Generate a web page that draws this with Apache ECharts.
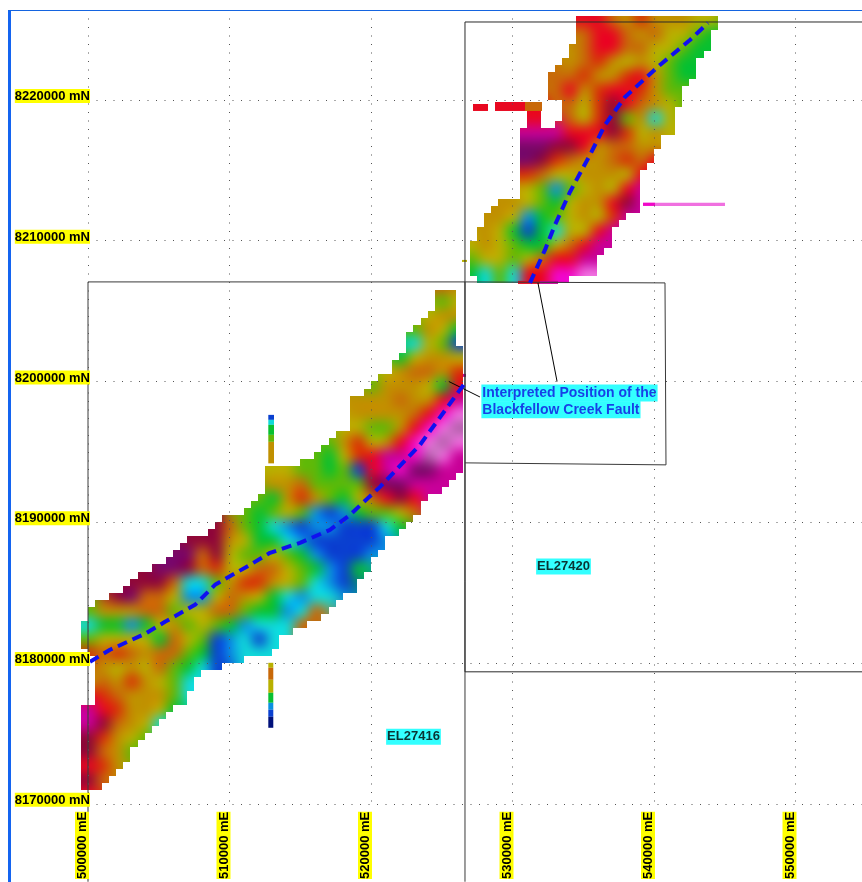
<!DOCTYPE html>
<html><head><meta charset="utf-8">
<style>html,body{margin:0;padding:0;background:#fff}#c{width:862px;height:882px}</style>
<script src="https://cdn.jsdelivr.net/npm/echarts@6/dist/echarts.min.js"></script>
</head><body><div id="c"></div>
<script>
// Colour codes of the survey image: [start column, cell codes], one row per 1000 m going south.
const originE = 499600, originN = 8226200, cellSize = 1000, subCell = 500;
const surveyRows = [
[35,"rr879777665"],[35,"8rr8786654"],[34,"78rr8866544"],[34,"7897676544"],[33,"889779r754"],
[33,"8r79rr9755"],[34,"869mr8765"],[31,"rr 869m5736"],[31,"cccrrrm9676"],[31,"ppmmr78877"],
[31,"pm9877898r"],[31,"98667776r"],[31,"6525676rc"],[29,"77654677rmc"],[28,"7762456769c"],
[28,"76414366rc"],[27,"67654468rcc"],[27,"566568rrcc"],[27,"4353rrddee"],
[25,"8"],[25,"56"],[24,"677"],[23,"5764"],[23,"3651"],[22,"46776"],[21,"678879"],
[20,"577764r"],[19,"777877rc"],[19,"77778rde"],[18,"66557rdef"],[17,"57967rdefe"],
[16,"5469rccdfec"],[13,"6655451rcdppcc"],[13,"7785555mppccc"],[12,"547975468rmrc"],
[11,"5456521245568"],[9,"m8543212211134"],[7,"mmm764432111112"],[6,"pp8m65565421112"],
[4,"mppm896688654214"],[3,"mmm8335799765321"],[2,"mp88622687643233"],[0,"57778856688544238"],
[0,"3442467565423338"],[0,"56666486512313"],[0,"9898788541233"],[0,"8767685431"],
[0,"78797653"],[0,"r9877753"],[0,"cr97764"],[0,"cm8763"],[0,"m9765"],[0,"m875"],[0,"r97"],[0,"m8"],[0,"r"]
];
// Outline of the two survey blocks as [easting, northing].
const outlineSouth = [[500000,8170570],[499576,8171351],[499576,8177175],[500283,8177175],[500283,8180229],[499859,8180797],
[499576,8180939],[499576,8182572],[499859,8183638],[500707,8184490],[501767,8184845],[502615,8185200],[502968,8185768],
[503816,8186479],[505583,8187331],[506007,8187828],[506643,8188538],[507562,8188893],[508480,8189319],[509046,8189816],
[509540,8190385],[510742,8190527],[511590,8191379],[512014,8191805],[512509,8191805],[512650,8193723],[513215,8194078],
[513922,8193936],[514487,8193936],[515194,8194220],[515689,8194646],[516537,8194930],[516961,8195711],[517597,8196563],
[518374,8196776],[518516,8197984],[518728,8198836],[519434,8198907],[519576,8199546],[520424,8200327],[521554,8200683],
[521696,8201535],[522544,8201890],[522614,8203452],[523462,8204376],[524310,8205086],[524522,8206506],[524735,8206719],
[525583,8206648],[525936,8206293],[526007,8202742],[526289,8202600],[526289,8201038],[526501,8200967],[526572,8196350],
[526289,8193723],[525936,8193225],[525370,8192515],[525088,8192089],[524169,8191805],[523321,8191095],[523251,8190314],
[522261,8190172],[522261,8189461],[521342,8188964],[520282,8187331],[519222,8186123],[519222,8185200],[518304,8185058],
[517809,8184277],[517314,8184277],[516395,8183283],[515194,8182572],[514275,8182146],[513357,8182146],[513357,8181294],
[513074,8180797],[512297,8180584],[511449,8180584],[510742,8180229],[509328,8180087],[509328,8179519],[508410,8179306],
[507350,8179021],[507350,8178098],[507067,8177388],[506502,8177033],[505442,8176110],[504947,8175470],[504382,8175044],
[503321,8174050],[502827,8173127],[502120,8172417],[501343,8171919],[501201,8171138],[500495,8170996],[500141,8170783]];
const outlineNorth = [[534770,8225895],[534628,8225540],[534487,8223906],[533922,8223906],[533710,8222699],[532862,8221918],
[532508,8221420],[532508,8220213],[533498,8220213],[533498,8218935],[533003,8218224],[532084,8218224],[532084,8219290],
[531024,8219290],[531024,8218011],[530671,8217869],[530529,8214673],[530388,8213253],[530317,8212898],[528763,8212685],
[528056,8211833],[527703,8210625],[526784,8209560],[526784,8207429],[528268,8207074],[533215,8207074],[536042,8207571],
[536042,8208140],[536324,8209134],[537031,8209560],[537243,8211122],[538162,8211478],[538162,8211975],[539222,8212330],
[539222,8215029],[539929,8215526],[540212,8216449],[540282,8216946],[540777,8217372],[541271,8217727],[541271,8219290],
[542049,8219503],[542049,8220355],[542331,8221420],[543038,8221633],[543250,8223196],[544098,8223551],[544169,8224971],
[545017,8225682],[544098,8225895],[542331,8226250],[537737,8226250],[537737,8225895],[537101,8225895],[537101,8226250],
[536395,8226250],[536395,8225895]];
// Narrow flight-line tails: [E west, N north, E east, N south, code]
const tailCells = [
[512742,8197629,513145,8197274,"1"],[512742,8197274,513145,8196919,"3"],[512742,8196919,513145,8196208,"4"],
[512742,8196208,513145,8195711,"5"],[512742,8195711,513145,8194184,"7"],
[512742,8180016,513095,8179661,"6"],[512742,8179661,513095,8178808,"8"],[512742,8178808,513095,8177885,"6"],
[512742,8177885,513095,8177175,"4"],[512742,8177175,513095,8176678,"2"],[512742,8176678,513095,8176181,"1"],
[512742,8176181,513095,8175399,"0"],
[539222,8212706,540070,8212472,"d"],[540070,8212706,545017,8212472,"e"],
[527208,8219716,528268,8219219,"r"],[528763,8219858,529823,8219219,"r"],[529823,8219858,530883,8219219,"r"],
[530883,8219858,532084,8219219,"8"],
[526431,8208637,526784,8208494,"6"],[526501,8200541,526714,8200328,"c"],
[530388,8207145,531943,8206932,"r"],[531943,8207145,533215,8206932,"c"]
];
const codeColors = {"0":"#00107a","1":"#0a40d0","2":"#0a90e0","3":"#10d8d8","4":"#08c030","5":"#60b808",
"6":"#b8b000","7":"#c09000","8":"#c86808","9":"#d83008","r":"#e80820","m":"#900838","p":"#7a0868",
"c":"#c80098","d":"#f008c8","e":"#f070e0","f":"#b060a8"};

const faultSouth = [[500141,8180087],[501555,8180939],[504028,8182075],[505442,8182928],[507562,8184135],
[508975,8185555],[511449,8186976],[512862,8187828],[514982,8188538],[517102,8189461],[518516,8190527],
[520636,8192516],[523463,8195498],[526643,8199902]];
const faultNorth = [[531235,8207003],[532295,8209347],[533002,8211122],[534062,8213466],[535476,8216094],
[536536,8218225],[537949,8220213],[540423,8222486],[542543,8224261],[543815,8225469]];
const el27416 = [[500000,8164462],[500000,8207074],[526643,8207074],[526643,8164462]];
const el27420 = [[554700,8225540],[526643,8225540],[526643,8179375],[554700,8179375]];
const middleBox = [[526643,8207074],[540777,8207003],[540848,8194077],[526643,8194219]];
const leaderWest = [[525500,8200000],[527700,8198900]];
const leaderNorth = [[531800,8207000],[533150,8200000]];
const tenementLabels = [["EL27416",523003,8174760],["EL27420",533604,8186855]];
const faultLabels = [["Interpreted Position of the",527800,8199191],["Blackfellow Creek Fault",527800,8197984]];
const xMin=500000,xMax=554700,xStep=10000,yMin=8170000,yMax=8226392,yStep=10000;

const lookup={};
surveyRows.forEach((row,r)=>{[...row[1]].forEach((ch,i)=>{ if(ch!==' ')lookup[r+','+(row[0]+i)]=ch; });});
function inside(pt,poly){let hit=false;for(let i=0,j=poly.length-1;i<poly.length;j=i++){
  const a=poly[i],b=poly[j];
  if((a[1]>pt[1])!==(b[1]>pt[1])&&pt[0]<(b[0]-a[0])*(pt[1]-a[1])/(b[1]-a[1])+a[0])hit=!hit;}return hit;}
const subCells=[];
for(let n=8226500;n>8170000;n-=subCell)for(let e=499500;e<546000;e+=subCell){
  const mid=[e+subCell/2,n-subCell/2];
  if(inside(mid,outlineSouth)||inside(mid,outlineNorth))subCells.push([e,n,e+subCell,n-subCell]);
}
const allCols=46, allRows=surveyRows.length, pad=3;
function rgb(h){return [1,3,5].map(i=>parseInt(h.substr(i,2),16));}
let smoothCanvas=null;
function buildSmooth(api){
  const W=allCols+2*pad,H=allRows+2*pad;
  const low=document.createElement('canvas');low.width=W;low.height=H;
  const lc=low.getContext('2d');const img=lc.createImageData(W,H);
  let g=[];for(let r=0;r<H;r++){g[r]=[];for(let c=0;c<W;c++){const k=lookup[(r-pad)+','+(c-pad)];g[r][c]=k?rgb(codeColors[k]):null;}}
  for(let pass=0;pass<5;pass++){const n=g.map(a=>a.slice());
    for(let r=0;r<H;r++)for(let c=0;c<W;c++){if(g[r][c])continue;
      let s=[0,0,0],k=0;[[1,0],[-1,0],[0,1],[0,-1]].forEach(d=>{const v=(g[r+d[0]]||[])[c+d[1]];if(v){s[0]+=v[0];s[1]+=v[1];s[2]+=v[2];k++;}});
      if(k)n[r][c]=s.map(x=>x/k);}
    g=n;}
  for(let r=0;r<H;r++)for(let c=0;c<W;c++){const v=g[r][c]||[255,255,255],o=(r*W+c)*4;
    img.data[o]=v[0];img.data[o+1]=v[1];img.data[o+2]=v[2];img.data[o+3]=255;}
  lc.putImageData(img,0,0);
  const cv=document.createElement('canvas');cv.width=862;cv.height=882;
  const ctx=cv.getContext('2d');ctx.imageSmoothingEnabled=true;ctx.imageSmoothingQuality='high';
  ctx.filter='blur(3px)';
  const a=api.coord([originE-pad*cellSize,originN+pad*cellSize]),b=api.coord([originE+(allCols+pad)*cellSize,originN-(allRows+pad)*cellSize]);
  ctx.drawImage(low,a[0],a[1],b[0]-a[0],b[1]-a[1]);
  return cv;
}
function lineSeries(data,color,width,type,z){
  return {type:'line',data:data,symbol:'none',clip:false,silent:true,z:z,animation:false,
    lineStyle:{color:color,width:width,type:type||'solid',cap:'butt'}};
}
const font={fontFamily:'Liberation Sans',fontWeight:'bold',fontSize:13,color:'#000'};
const chart=echarts.init(document.getElementById('c'),null,{renderer:'canvas'});
chart.setOption({
  animation:false,backgroundColor:'#fff',
  grid:{left:88,right:0,top:10,bottom:78},
  graphic:[
    {type:'rect',shape:{x:8,y:10,width:3,height:872},style:{fill:'#1464f0'},z:50},
    {type:'rect',shape:{x:8,y:10,width:854,height:1},style:{fill:'#1464e0'},z:50}
  ],
  xAxis:{type:'value',z:20,min:xMin,max:xMax,interval:xStep,axisLine:{show:false},axisTick:{show:false},
    splitLine:{show:true,showMaxLine:false,lineStyle:{color:'#555',width:1,type:[1,7.5]}},
    axisLabel:{rotate:90,margin:8,showMaxLabel:false,padding:[0,0,12,0],formatter:v=>'{t|'+v+' mE}',
      rich:{t:Object.assign({backgroundColor:'#ffff00',padding:[1,0,0,0]},font)}}},
  yAxis:{type:'value',z:20,min:yMin,max:yMax,interval:yStep,axisLine:{show:false},axisTick:{show:false},
    splitLine:{show:true,showMaxLine:false,lineStyle:{color:'#555',width:1,type:[1,7.5]}},
    axisLabel:{margin:-2,showMaxLabel:false,padding:[0,0,8,0],formatter:v=>'{t|'+v+' mN}',
      rich:{t:Object.assign({backgroundColor:'#ffff00',padding:[1,0,0,0]},font)}}},
  series:[
    {type:'custom',name:'survey',z:3,silent:true,clip:false,data:subCells,
      dimensions:['e0','n0','e1','n1'],encode:{x:[0,2],y:[1,3]},
      renderItem:function(p,api){
        if(!smoothCanvas)smoothCanvas=buildSmooth(api);
        const a=api.coord([api.value(0),api.value(1)]),b=api.coord([api.value(2),api.value(3)]);
        const x0=Math.round(a[0]),y0=Math.round(a[1]),x1=Math.round(b[0]),y1=Math.round(b[1]);
        return {type:'rect',shape:{x:x0,y:y0,width:x1-x0,height:y1-y0},
          style:{fill:{image:smoothCanvas,repeat:'no-repeat'}}};
      }},
    {type:'custom',name:'tails',z:3,silent:true,clip:false,data:tailCells,
      dimensions:['e0','n0','e1','n1',{name:'code',type:'ordinal'}],encode:{x:[0,2],y:[1,3]},
      renderItem:function(p,api){
        const d=tailCells[p.dataIndex];
        const a=api.coord([d[0],d[1]]),b=api.coord([d[2],d[3]]);
        return {type:'rect',shape:{x:a[0],y:a[1],width:b[0]-a[0],height:b[1]-a[1]},style:{fill:codeColors[d[4]]}};
      }},
    lineSeries(el27416,'#3a3a3a',1,null,5),
    lineSeries(el27420,'#2a2a2a',1,null,5),
    lineSeries(middleBox,'#3a3a3a',1,null,5),
    lineSeries(leaderWest,'#000',1,null,6),
    lineSeries(leaderNorth,'#000',1,null,6),
    lineSeries(faultSouth,'#1010f0',4,[10,6],7),
    lineSeries(faultNorth,'#1010f0',4,[10,6],7),
    {type:'scatter',z:9,silent:true,symbolSize:0,clip:false,
      data:tenementLabels.map(t=>({name:t[0],value:[t[1],t[2]]})),
      label:{show:true,position:'inside',formatter:'{b}',backgroundColor:'#00ffff',padding:[2,1,1,1],
        fontFamily:'Liberation Sans',fontWeight:'bold',fontSize:13,color:'#000'}},
    {type:'scatter',z:9,silent:true,symbolSize:0,clip:false,
      data:faultLabels.map(t=>({name:t[0],value:[t[1],t[2]]})),
      label:{show:true,position:'right',distance:0,formatter:'{b}',backgroundColor:'#00ffff',padding:[2,1,1,1],
        fontFamily:'Liberation Sans',fontWeight:'bold',fontSize:14,color:'#1010e0'}}
  ]
});
</script></body></html>
